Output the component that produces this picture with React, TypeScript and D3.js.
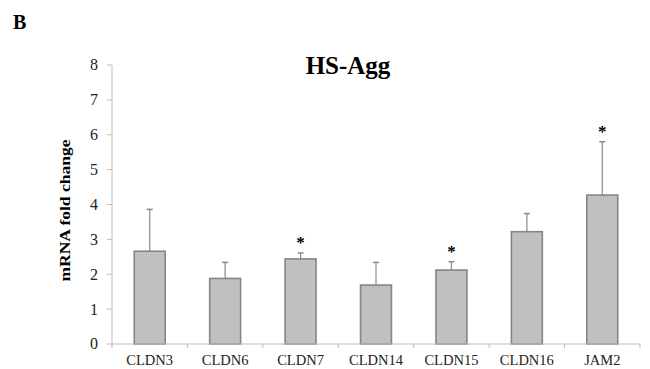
import React from "react";
import * as d3 from "d3";

const genes = ["CLDN3", "CLDN6", "CLDN7", "CLDN14", "CLDN15", "CLDN16", "JAM2"];
const foldChange = [2.66, 1.88, 2.44, 1.69, 2.12, 3.22, 4.27];
const errUpper = [3.86, 2.34, 2.61, 2.34, 2.36, 3.74, 5.8];
const significant = [false, false, true, false, true, false, true];
const yTicks = [0, 1, 2, 3, 4, 5, 6, 7, 8];

const W = 650;
const H = 369;
const margin = { top: 65, right: 10, bottom: 25, left: 112 };

export default function App() {
  const x = d3
    .scaleBand<string>()
    .domain(genes)
    .range([margin.left, 640])
    .padding(0);

  const y = d3
    .scaleLinear()
    .domain([0, 8])
    .range([H - margin.bottom, margin.top]);

  const barW = x.bandwidth() * 0.41;
  const axisColor = "#bdbdbd";
  const font = "'Liberation Serif', 'Times New Roman', serif";

  return (
    <svg
      width={W}
      height={H}
      style={{ position: "absolute", left: 0, top: 0, background: "#fff" }}
      fontFamily={font}
    >
      <text x={13} y={29} fontSize={20} fontWeight="bold">
        B
      </text>

      <text x={348} y={74} fontSize={25} fontWeight="bold" textAnchor="middle">
        HS-Agg
      </text>

      {/* y axis */}
      <line x1={margin.left} x2={margin.left} y1={y(8)} y2={y(0)} stroke={axisColor} />
      {yTicks.map((t) => (
        <g key={t}>
          <line x1={margin.left - 5} x2={margin.left} y1={y(t)} y2={y(t)} stroke={axisColor} />
          <text x={98} y={y(t)} dy="0.34em" fontSize={16} textAnchor="end" fill="#222">
            {t}
          </text>
        </g>
      ))}

      <text
        transform={`translate(70,${(y(8) + y(0)) / 2 + 6}) rotate(-90)`}
        fontSize={15}
        fontWeight="bold"
        textAnchor="middle"
        textLength={142}
        lengthAdjust="spacingAndGlyphs"
      >
        mRNA fold change
      </text>

      {/* bars */}
      {genes.map((g, i) => {
        const cx = (x(g) as number) + x.bandwidth() / 2;
        return (
          <g key={g}>
            <line x1={cx} x2={cx} y1={y(foldChange[i])} y2={y(errUpper[i])} stroke="#8a8a8a" strokeWidth={1.2} />
            <line x1={cx - 3} x2={cx + 3} y1={y(errUpper[i])} y2={y(errUpper[i])} stroke="#8a8a8a" strokeWidth={1.5} />
            <rect
              x={cx - barW / 2}
              y={y(foldChange[i])}
              width={barW}
              height={y(0) - y(foldChange[i])}
              fill="#c0c0c0"
              stroke="#858585"
              strokeWidth={1.6}
            />
            {significant[i] && (
              <text x={cx} y={y(errUpper[i]) - 5} fontSize={17} fontWeight="bold" textAnchor="middle">
                *
              </text>
            )}
            <text x={cx} y={365} fontSize={14.5} textAnchor="middle" fill="#222">
              {g}
            </text>
          </g>
        );
      })}

      {/* x axis */}
      <line x1={margin.left} x2={640} y1={y(0)} y2={y(0)} stroke={axisColor} />
      {[...genes.map((g) => x(g) as number), 640].map((px, i) => (
        <line key={i} x1={px} x2={px} y1={y(0)} y2={y(0) + 4} stroke={axisColor} />
      ))}
    </svg>
  );
}
